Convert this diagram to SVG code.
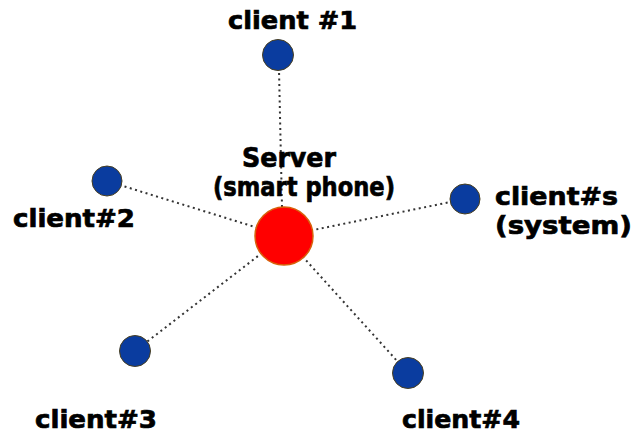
<svg xmlns="http://www.w3.org/2000/svg" width="636" height="434" viewBox="0 0 636 434">
<style>
.lbl{font-family:"DejaVu Sans","Liberation Sans",sans-serif;font-weight:bold;font-size:25px;fill:#000;stroke:#000;stroke-width:0.7}
.srv{font-family:"DejaVu Sans","Liberation Sans",sans-serif;font-weight:bold;font-size:26px;fill:#000;stroke:#000;stroke-width:0.7}
.link{stroke:#333;stroke-width:2;stroke-dasharray:2 3.5;fill:none}
.client{fill:#0a3c9f;stroke:#4a4020;stroke-width:1}
.server{fill:#ff0000;stroke:#d8600a;stroke-width:1.5}
</style>
<rect width="636" height="434" fill="#fff"/>
<g id="connectors">
<line class="link" x1="282" y1="207" x2="279" y2="70"/>
<line class="link" x1="284" y1="236" x2="107" y2="181"/>
<line class="link" x1="284" y1="236" x2="465" y2="199"/>
<line class="link" x1="284" y1="236" x2="135" y2="351"/>
<line class="link" x1="284" y1="236" x2="408" y2="373"/>
</g>
<g id="server">
<circle class="server" cx="284" cy="236" r="29"/>
<text class="srv" x="242" y="167" textLength="94" lengthAdjust="spacingAndGlyphs">Server</text>
<text class="srv" x="213" y="196" textLength="182" lengthAdjust="spacingAndGlyphs">(smart phone)</text>
</g>
<g id="client1">
<circle class="client" cx="278" cy="55" r="15.5"/>
<text class="lbl" x="228" y="29" textLength="129" lengthAdjust="spacingAndGlyphs">client #1</text>
</g>
<g id="client2">
<circle class="client" cx="107" cy="181" r="15"/>
<text class="lbl" x="13" y="227" textLength="122" lengthAdjust="spacingAndGlyphs">client#2</text>
</g>
<g id="clients">
<circle class="client" cx="465" cy="199" r="15"/>
<text class="lbl" x="495" y="205" textLength="123" lengthAdjust="spacingAndGlyphs">client#s</text>
<text class="lbl" x="495" y="234" textLength="137" lengthAdjust="spacingAndGlyphs">(system)</text>
</g>
<g id="client3">
<circle class="client" cx="135" cy="351" r="15.5"/>
<text class="lbl" x="35" y="428" textLength="122" lengthAdjust="spacingAndGlyphs">client#3</text>
</g>
<g id="client4">
<circle class="client" cx="408" cy="373" r="15.5"/>
<text class="lbl" x="402" y="428" textLength="118" lengthAdjust="spacingAndGlyphs">client#4</text>
</g>
</svg>
